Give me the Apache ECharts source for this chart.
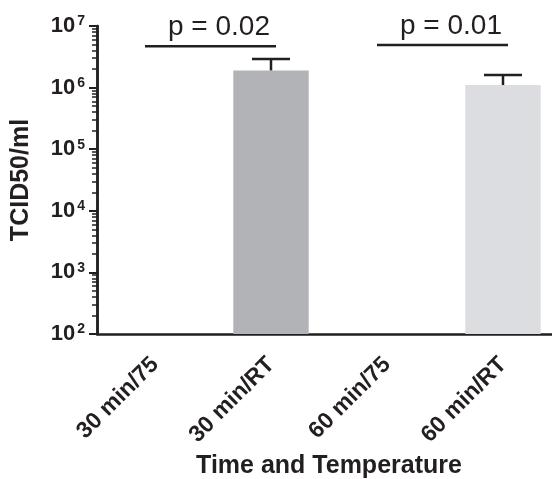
<!DOCTYPE html>
<html>
<head>
<meta charset="utf-8">
<script src="https://cdn.jsdelivr.net/npm/echarts@6/dist/echarts.min.js"></script>
<style>
  html, body { margin: 0; padding: 0; background: #fff; }
  #chart { width: 552px; height: 479px; }
</style>
</head>
<body>
<div id="chart"></div>
<script>
const FONT = 'Liberation Sans, Arial, sans-serif';

const CATEGORIES = [ '30 min/75', '30 min/RT', '60 min/75', '60 min/RT' ];
const MEANS = [ '-', 1.9e6, '-', 1.1e6 ];
const UPPER = [ null, 2.9e6, null, 1.6e6 ];
const BAR_COLORS = [ '#b2b3b6', '#b2b3b6', '#dcdde0', '#dcdde0' ];

const Y_EXPONENTS = [ 2, 3, 4, 5, 6, 7 ];

// significance brackets: from category, to category, height, text
const SIG_FROM = [ 0, 2 ];
const SIG_TO = [ 1, 3 ];
const SIG_LEVEL = [ 4.7e6, 4.9e6 ];
const SIG_TEXT = [ 'p = 0.02', 'p = 0.01' ];

let majorTicks = Y_EXPONENTS.map(e => Math.pow(10, e));
let minorTicks = [];
Y_EXPONENTS.slice(0, -1).forEach(e => {
  for (let m = 2; m <= 9; m++) minorTicks.push(m * Math.pow(10, e));
});

let chart = echarts.init(document.getElementById('chart'));

let yBase = {
  type: 'log',
  logBase: 10,
  min: 100,
  max: 1e7,
  splitLine: { show: false },
  axisLine: { show: true, lineStyle: { color: '#231f20', width: 2.5 } }
};

chart.setOption({
  backgroundColor: '#fff',
  animation: false,
  grid: { left: 97, top: 26, width: 464, bottom: 145, outerBoundsMode: 'none' },
  xAxis: {
    type: 'category',
    data: CATEGORIES,
    name: 'Time and Temperature',
    nameLocation: 'middle',
    nameGap: 118,
    nameTextStyle: { fontFamily: FONT, fontWeight: 'bold', fontSize: 25, color: '#231f20' },
    axisLine: { lineStyle: { color: '#231f20', width: 2.5 } },
    axisTick: { alignWithLabel: true, length: 8, lineStyle: { width: 2, color: '#231f20' } },
    axisLabel: {
      rotate: 45,
      margin: 27,
      fontFamily: FONT,
      fontWeight: 'bold',
      fontSize: 23,
      color: '#231f20'
    }
  },
  yAxis: [
    Object.assign({}, yBase, {
      name: 'TCID50/ml',
      nameLocation: 'middle',
      nameGap: 63,
      nameTextStyle: { fontFamily: FONT, fontWeight: 'bold', fontSize: 25, color: '#231f20' },
      axisTick: { show: true, length: 8, customValues: majorTicks, lineStyle: { width: 2, color: '#231f20' } },
      axisLabel: {
        margin: 12,
        customValues: majorTicks,
        formatter: v => '{b|10}{s|' + Math.round(Math.log10(v)) + '}',
        rich: {
          b: { fontFamily: FONT, fontWeight: 'bold', fontSize: 22, color: '#231f20', lineHeight: 23 },
          s: { fontFamily: FONT, fontWeight: 'bold', fontSize: 14, color: '#231f20', verticalAlign: 'top', padding: [ 0, 0, 8, 2 ] }
        }
      }
    }),
    Object.assign({}, yBase, {
      position: 'left',
      axisTick: { show: true, length: 5, customValues: minorTicks, lineStyle: { width: 1.5, color: '#231f20' } },
      axisLabel: { show: false }
    })
  ],
  series: [
    {
      type: 'bar',
      data: MEANS.map((v, i) => ({ value: v, itemStyle: { color: BAR_COLORS[i] } })),
      barWidth: '65%'
    },
    {
      type: 'custom',
      data: CATEGORIES.map((c, i) => [ i, MEANS[i], UPPER[i] ]).filter(d => d[2] != null),
      renderItem: (params, api) => {
        let base = api.coord([ api.value(0), api.value(1) ]);
        let top = api.coord([ api.value(0), api.value(2) ]);
        let style = { stroke: '#231f20', lineWidth: 2.5 };
        return {
          type: 'group',
          children: [
            { type: 'line', shape: { x1: base[0], y1: base[1], x2: top[0], y2: top[1] }, style },
            { type: 'line', shape: { x1: top[0] - 19, y1: top[1], x2: top[0] + 19, y2: top[1] }, style }
          ]
        };
      },
      z: 3
    },
    {
      type: 'custom',
      data: SIG_FROM.map((f, i) => [ f, SIG_TO[i], SIG_LEVEL[i], i ]),
      renderItem: (params, api) => {
        let a = api.coord([ api.value(0), api.value(2) ]);
        let b = api.coord([ api.value(1), api.value(2) ]);
        let text = SIG_TEXT[api.value(3)];
        return {
          type: 'group',
          children: [
            { type: 'line', shape: { x1: a[0] - 10, y1: a[1], x2: b[0] + 5, y2: b[1] },
              style: { stroke: '#231f20', lineWidth: 2.5 } },
            { type: 'text', x: (a[0] + b[0]) / 2 + 6, y: a[1] - 5,
              style: { text, fontFamily: FONT, fontSize: 28, fill: '#231f20', align: 'center', verticalAlign: 'bottom' } }
          ]
        };
      },
      z: 4
    }
  ]
});
</script>
</body>
</html>
